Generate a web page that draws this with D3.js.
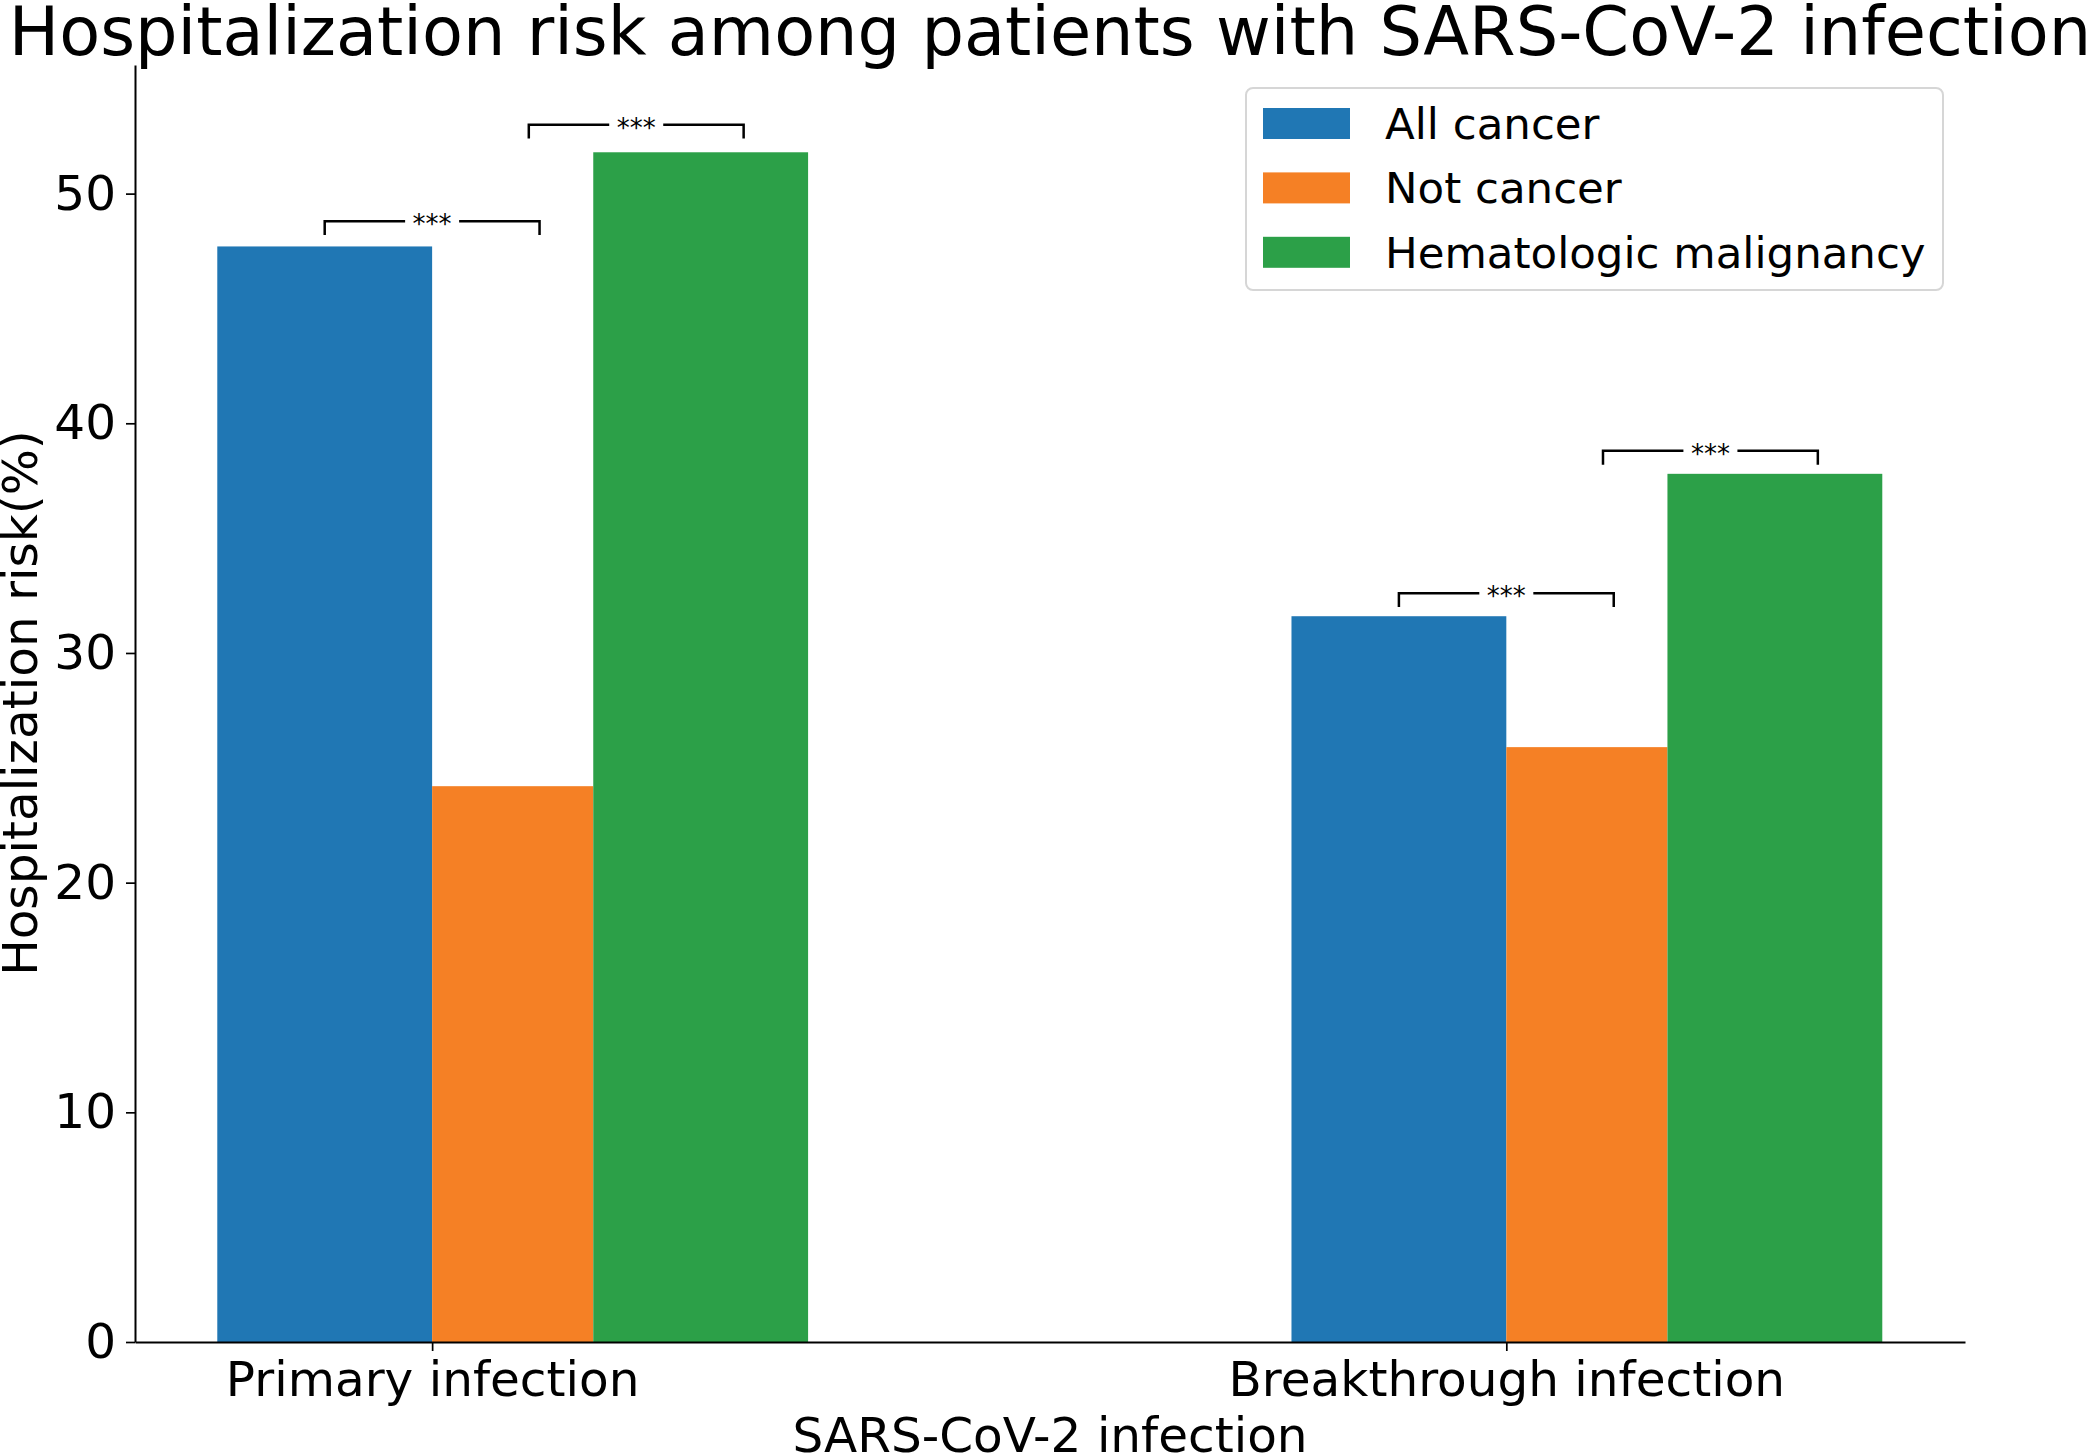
<!DOCTYPE html>
<html>
<head>
<meta charset="utf-8">
<script src="https://cdn.jsdelivr.net/npm/d3@7"></script>
<style>
  body { margin: 0; background: #fff; }
  svg { display: block; font-family: "DejaVu Sans", sans-serif; }
</style>
</head>
<body>
<svg width="2100" height="1454"></svg>
<script>
const categories = ["Primary infection", "Breakthrough infection"];
const seriesNames = ["All cancer", "Not cancer", "Hematologic malignancy"];
const allCancer = [47.7, 31.6];
const notCancer = [24.2, 25.9];
const hematologic = [51.8, 37.8];
const yTicks = [0, 10, 20, 30, 40, 50];

// significance brackets: category, x range (category units), base height, label
const brackets = [
  { cat: 0, from: -0.1, to: 0.1, y: 48.2, label: "***" },
  { cat: 0, from: 0.09, to: 0.29, y: 52.4, label: "***" },
  { cat: 1, from: -0.1, to: 0.1, y: 32.0, label: "***" },
  { cat: 1, from: 0.09, to: 0.29, y: 38.2, label: "***" }
];

const seriesValues = [allCancer, notCancer, hematologic];
const colors = ["#2077b4", "#f58025", "#2ca048"];
const barStart = [-0.2, 0, 0.15];
const barWidth = [0.2, 0.15, 0.2];

const svg = d3.select("svg");

const x = d3.scaleLinear().domain([-0.2766, 1.427]).range([135, 1965]);
const y = d3.scaleLinear().domain([0, 55.6]).range([1342, 65]);

// bars
seriesValues.forEach((vals, s) => {
  svg.append("g").selectAll("rect")
    .data(vals)
    .enter().append("rect")
    .attr("x", (d, i) => x(i + barStart[s]))
    .attr("width", (d, i) => x(i + barStart[s] + barWidth[s]) - x(i + barStart[s]))
    .attr("y", d => y(d))
    .attr("height", d => y(0) - y(d))
    .attr("fill", colors[s]);
});

// axes
const yAxis = svg.append("g")
  .attr("transform", `translate(${x.range()[0]},0)`)
  .call(d3.axisLeft(y).tickValues(yTicks).tickSize(9).tickPadding(10).tickSizeOuter(0));

const xAxis = svg.append("g")
  .attr("transform", `translate(0,${y(0)})`)
  .call(d3.axisBottom(x).tickValues([0, 1]).tickFormat(i => categories[i])
    .tickSize(9).tickPadding(11).tickSizeOuter(0));

[yAxis, xAxis].forEach(ax => {
  ax.selectAll("path.domain").attr("stroke", "#000").attr("stroke-width", 2);
  ax.selectAll(".tick line").attr("stroke", "#000").attr("stroke-width", 1.7);
  ax.selectAll(".tick text")
    .attr("font-family", "DejaVu Sans")
    .attr("font-size", 48.5)
    .attr("fill", "#000");
});

// brackets
brackets.forEach(b => {
  const x1 = x(b.cat + b.from), x2 = x(b.cat + b.to);
  const yb = y(b.y), yt = y(b.y + 0.6);
  const g = svg.append("g");
  g.append("path")
    .attr("d", `M${x1},${yb}V${yt}H${x2}V${yb}`)
    .attr("fill", "none")
    .attr("stroke", "#000")
    .attr("stroke-width", 2.5);
  g.append("rect")
    .attr("x", (x1 + x2) / 2 - 27)
    .attr("y", yt - 10)
    .attr("width", 54)
    .attr("height", 20)
    .attr("fill", "#fff");
  g.append("text")
    .attr("x", (x1 + x2) / 2)
    .attr("y", yt + 12)
    .attr("text-anchor", "middle")
    .attr("font-size", 26)
    .text(b.label);
});

// title and axis labels
svg.append("text")
  .attr("x", 1050)
  .attr("y", 55)
  .attr("text-anchor", "middle")
  .attr("font-size", 67)
  .text("Hospitalization risk among patients with SARS-CoV-2 infection");

svg.append("text")
  .attr("x", 1050)
  .attr("y", 1452)
  .attr("text-anchor", "middle")
  .attr("font-size", 48.5)
  .text("SARS-CoV-2 infection");

svg.append("text")
  .attr("transform", `translate(37,${703}) rotate(-90)`)
  .attr("text-anchor", "middle")
  .attr("font-size", 48.5)
  .text("Hospitalization risk(%)");

// legend
const legend = svg.append("g");
legend.append("rect")
  .attr("x", 1246).attr("y", 88)
  .attr("width", 697).attr("height", 202)
  .attr("rx", 7)
  .attr("fill", "#fff")
  .attr("stroke", "#d6d6d6")
  .attr("stroke-width", 2);

seriesNames.forEach((name, i) => {
  const cy = 123 + i * 64.4;
  legend.append("rect")
    .attr("x", 1263).attr("y", cy - 15)
    .attr("width", 87).attr("height", 31)
    .attr("fill", colors[i]);
  legend.append("text")
    .attr("x", 1385).attr("y", cy + 16)
    .attr("font-size", 43.5)
    .text(name);
});
</script>
</body>
</html>
